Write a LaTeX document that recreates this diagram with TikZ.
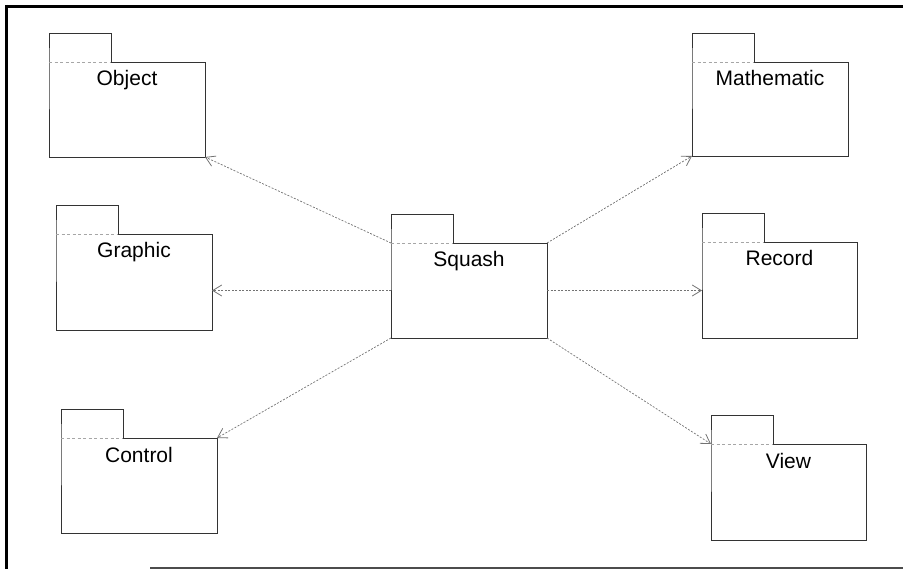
\documentclass[tikz,border=0pt]{standalone}
\usepackage{fontspec}
\setmainfont{Liberation Sans}
\usetikzlibrary{arrows.meta}
\begin{document}
\begin{tikzpicture}[x=1pt,y=-1pt,
  pkgbody/.style={anchor=north west, inner sep=0pt, outer sep=0pt},
  pkgline/.style={draw=black!80, line width=0.9pt},
  tabsep/.style={draw=black!35, line width=0.6pt, dash pattern=on 3pt off 2.5pt},
  pkglabel/.style={anchor=base, inner sep=0pt, font=\fontsize{21}{25}\selectfont},
  dep/.style={draw=black!55, line width=0.7pt, dash pattern=on 2pt off 1.5pt,
    -{Straight Barb[length=9pt, width=11pt, line width=0.8pt]}},
  frameline/.style={draw=black, line width=3pt}
]
\useasboundingbox (0,0) rectangle (903,569);

% outer frame
\draw[frameline] (5,6.5) -- (903,6.5);
\draw[frameline] (6.5,5) -- (6.5,569);
\draw[draw=black!70, line width=1.5pt] (150,568) -- (903,568);

% package: name, x, y (body top-left), width, height, label
\newcommand\umlpkg[6]{%
  \node[pkgbody, minimum width=#4pt, minimum height=#5pt] (#1) at (#2,#3) {};
  \draw[pkgline] (#1.north west) -- ++(0,-29) -- ++(62,0) -- ++(0,29)
    -- (#1.north east) -- (#1.south east) -- (#1.south west) -- cycle;
  \draw[tabsep] (#1.north west) -- ++(62,0);
  \node[pkglabel] (#1-label) at ([yshift=-24pt]#1.north) {#6};
}

\umlpkg{object}{49}{62}{156}{95}{Object}
\umlpkg{graphic}{56}{234}{156}{96}{Graphic}
\umlpkg{control}{61}{438}{156}{95}{Control}
\umlpkg{squash}{391}{243}{156}{95}{Squash}
\umlpkg{mathematic}{692}{62}{156}{94}{Mathematic}
\umlpkg{record}{702}{242}{155}{96}{Record}
\umlpkg{view}{711}{444}{155}{96}{View}

% dependencies
\draw[dep] (squash.north west) -- (object.south east);
\draw[dep] (squash.west) -- (squash.west -| graphic.east);
\draw[dep] (squash.south west) -- (control.north east);
\draw[dep] (squash.north east) -- (mathematic.south west);
\draw[dep] (squash.east) -- (squash.east -| record.west);
\draw[dep] (squash.south east) -- (view.north west);
\end{tikzpicture}
\end{document}
